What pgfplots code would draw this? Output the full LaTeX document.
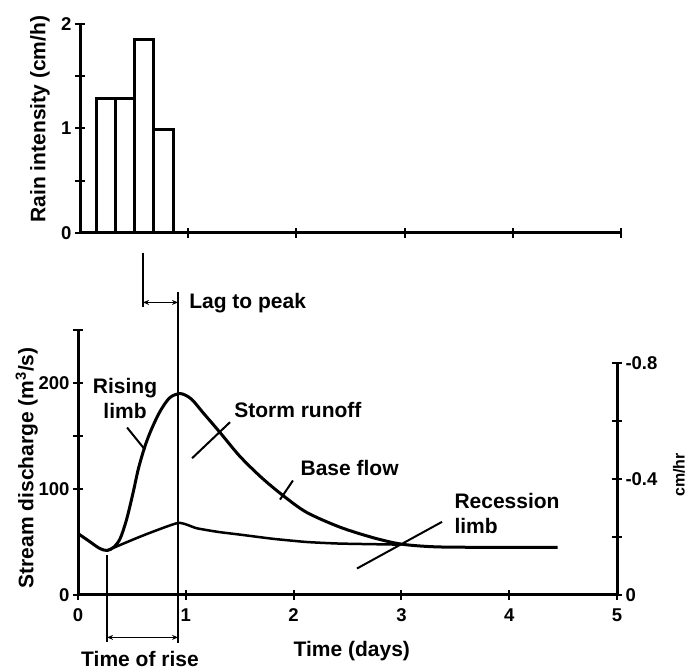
\documentclass[border=0pt]{standalone}
\usepackage{fontspec}
\setmainfont{Liberation Sans}
\usepackage{pgfplots}
\pgfplotsset{compat=1.18}
\usetikzlibrary{arrows.meta}

\newcommand\annfont{\fontsize{21}{25}\selectfont\bfseries}
\newcommand\tickfont{\fontsize{18.5}{18.5}\selectfont\bfseries}

\pgfplotsset{
  hydro/.style={
    scale only axis,
    anchor=south west,
    xmin=0, xmax=5,
    tick align=inside,
    major tick length=10pt,
    tick style={black, line width=2pt},
    tick label style={font=\tickfont},
    label style={font=\annfont},
    /pgf/number format/assume math mode=true,
    clip=false,
  },
}

\begin{document}
\begin{tikzpicture}[x=1pt,y=1pt]
\path[use as bounding box] (0,0) rectangle (688,669);

% rain histogram
\begin{axis}[hydro,
    at={(80pt,436pt)},
    width=541pt, height=209pt,
    ymin=0, ymax=2,
    axis lines=left,
    axis line style={-, line width=3pt},
    xtick={1,2,3,4,5}, xticklabels={},
    ytick={0,0.5,1,1.5,2}, yticklabels={0,,1,,2},
    ylabel={Rain intensity (cm/h)},
    ylabel style={at={(axis description cs:-0.074,0.545)}, anchor=center},
  ]
  \addplot[ybar interval, draw=black, fill=white, line width=3pt]
    coordinates {(0.155,1.29) (0.33,1.29) (0.505,1.855) (0.68,0.995) (0.86,0.995)};
\end{axis}

% stream discharge
\begin{axis}[hydro,
    at={(78pt,74pt)},
    width=539pt, height=265pt,
    ymin=0, ymax=250,
    axis lines=left,
    axis line style={-, line width=3pt},
    xtick={0,1,2,3,4,5},
    xticklabel style={yshift=-5pt},
    ytick={0,100,150,200,250}, yticklabels={0,100,,200,},
    xlabel={Time (days)},
    xlabel style={at={(axis description cs:0.508,-0.212)}, anchor=center},
    ylabel={Stream discharge (m\textsuperscript{3}/s)},
    ylabel style={at={(axis description cs:-0.095,0.48)}, anchor=center},
  ]
  % total hydrograph
  \addplot[black, line width=3pt, smooth, tension=0.5] coordinates {
    (0,58) (0.1,51) (0.2,44) (0.27,42) (0.33,45) (0.39,53) (0.45,71)
    (0.51,96) (0.56,119) (0.62,140) (0.68,156) (0.76,173) (0.85,186) (0.95,190)
    (1.05,185) (1.16,172) (1.32,153) (1.5,131) (1.7,111)
    (1.9,94) (2.12,78) (2.43,64) (2.74,54) (3.0,48) (3.3,45.5)
    (3.7,45) (4.45,45)};
  % base flow
  \addplot[black, line width=2.5pt, smooth, tension=0.3] coordinates {
    (0.27,42) (0.6,56) (0.93,68) (1.1,63) (1.3,59.5) (1.5,57)
    (1.81,53) (2.12,50) (2.43,48.5) (3.0,47.5)};

  % lag to peak
  \draw[line width=1.5pt] (axis cs:0.928,286) -- (axis cs:0.928,-45);
  \draw[line width=2pt] (axis cs:0.603,323) -- (axis cs:0.603,272);
  \draw[line width=1.2pt, {Stealth[length=6pt,width=5pt]}-{Stealth[length=6pt,width=5pt]}]
    (axis cs:0.603,276) -- (axis cs:0.928,276);
  \node[font=\annfont, anchor=base west] at (axis cs:1.0,270) {Lag to peak};

  % time of rise
  \draw[line width=2pt] (axis cs:0.27,38) -- (axis cs:0.27,-44);
  \draw[line width=1.2pt, {Stealth[length=6pt,width=5pt]}-{Stealth[length=6pt,width=5pt]}]
    (axis cs:0.27,-40) -- (axis cs:0.928,-40);
  \node[font=\annfont] at (axis cs:0.575,-60) {Time of rise};

  % labels with pointers
  \draw[line width=2pt] (axis cs:0.455,158) -- (axis cs:0.622,137);
  \node[font=\annfont, align=center] at (axis cs:0.436,185) {Rising\\limb};
  \draw[line width=2pt] (axis cs:1.058,129) -- (axis cs:1.41,163);
  \node[font=\annfont] at (axis cs:2.04,175) {Storm runoff};
  \draw[line width=2pt] (axis cs:1.874,90) -- (axis cs:1.994,108);
  \node[font=\annfont] at (axis cs:2.52,120) {Base flow};
  \draw[line width=2pt] (axis cs:2.588,25) -- (axis cs:3.377,69);
  \node[font=\annfont, align=left, anchor=north west] at (axis cs:3.46,99) {Recession\\limb};
\end{axis}

% right-hand scale
\begin{axis}[hydro,
    at={(78pt,74pt)},
    width=539pt, height=232pt,
    ymin=-0.8, ymax=0, y dir=reverse,
    axis x line=none, axis y line=right,
    axis line style={-, line width=3pt},
    ytick={0,-0.2,-0.4,-0.6,-0.8}, yticklabels={0,,-0.4,,-0.8},
    ylabel={cm/hr},
    ylabel style={at={(axis description cs:1.115,0.517)}, anchor=center, inner sep=0pt, font=\fontsize{16}{16}\selectfont\bfseries},
  ]
  \addplot[draw=none] coordinates {(0,0) (5,-0.8)};
\end{axis}
\end{tikzpicture}
\end{document}
